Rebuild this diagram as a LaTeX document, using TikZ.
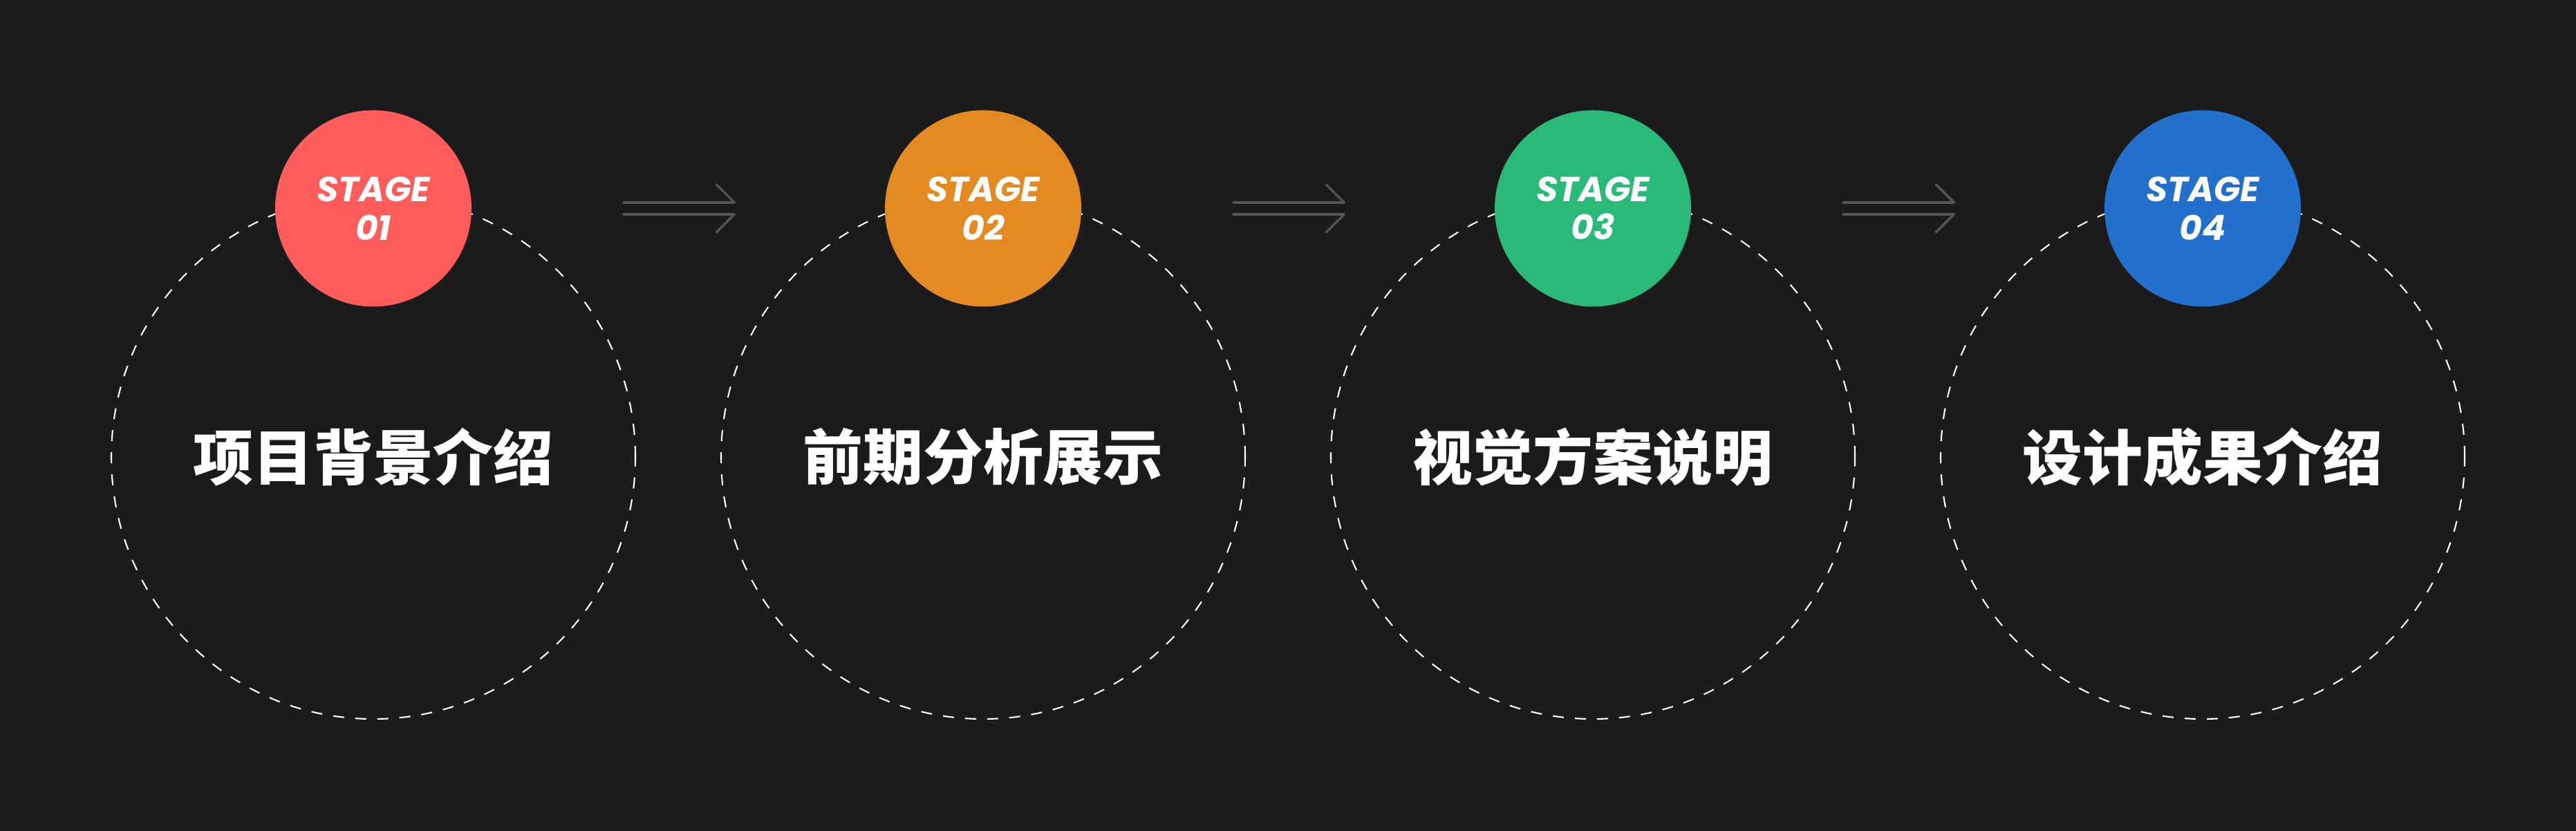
\documentclass[tikz,border=0pt]{standalone}
\usepackage{fontspec}
\newfontfamily\cjk{Noto Sans CJK SC}[BoldFont={Noto Sans CJK SC Black}]
\newfontfamily\stagefont{Poppins}
\usetikzlibrary{arrows.meta,calc,positioning}
\definecolor{bg}{HTML}{1B1B1B}
\definecolor{redstage}{HTML}{FF5C5C}
\definecolor{orangestage}{HTML}{E38A22}
\definecolor{greenstage}{HTML}{2BB97A}
\definecolor{bluestage}{HTML}{2370CC}
\definecolor{arrowgray}{HTML}{555555}
\tikzset{
    ring/.style={
    circle,draw=white,line width=0.6pt,dash pattern=on 1.6mm off 1.6mm,minimum size=7.58cm,inner sep=0pt
    },
    badge/.style={
    circle,fill=#1,minimum size=2.84cm,inner sep=0pt,text=white,align=center,
    font=\stagefont\bfseries\itshape\fontsize{14.3}{15.8}\selectfont
    },
    title/.style={
    text=white,inner sep=0pt,font=\cjk\bfseries\fontsize{24.7}{30}\selectfont
    },
    upper/.style={
    draw=arrowgray,line width=0.95pt,line cap=round,-{Straight Barb[harpoon,length=2.6mm,width=5.2mm,round]}
    },
    lower/.style={
    draw=arrowgray,line width=0.95pt,line cap=round,-{Straight Barb[harpoon,swap,length=2.6mm,width=5.2mm,round]}
    },
}

\begin{document}
\begin{tikzpicture}[node distance=8.82cm, on grid]
   \fill[bg] (0,0) rectangle (37.26,12.02);
   % dashed rings
   \node[ring] (r1) at (5.40,5.41) {};
   \node[ring,right=of r1] (r2) {};
   \node[ring,right=of r2] (r3) {};
   \node[ring,right=of r3] (r4) {};
   % titles
   \node[title] (t1) at (r1) {项目背景介绍};
   \node[title] (t2) at (r2) {前期分析展示};
   \node[title] (t3) at (r3) {视觉方案说明};
   \node[title] (t4) at (r4) {设计成果介绍};
   % stage badges
   \node[badge=redstage,above=3.595 of r1] (s1) {STAGE\\01};
   \node[badge=orangestage,above=3.595 of r2] (s2) {STAGE\\02};
   \node[badge=greenstage,above=3.595 of r3] (s3) {STAGE\\03};
   \node[badge=bluestage,above=3.595 of r4] (s4) {STAGE\\04};

   % double arrows between stages
   \foreach \a/\b in {s1/s2,s2/s3,s3/s4}{
     \coordinate (\a-ul) at ($(\a)!0.5!(\b)+(-0.79,0.085)$);
     \coordinate (\a-ur) at ($(\a)!0.5!(\b)+(0.83,0.085)$);
     \coordinate (\a-ll) at ($(\a)!0.5!(\b)+(-0.79,-0.085)$);
     \coordinate (\a-lr) at ($(\a)!0.5!(\b)+(0.83,-0.085)$);
     \draw[upper] (\a-ul) -- (\a-ur);
     \draw[lower] (\a-ll) -- (\a-lr);
   }
\end{tikzpicture}
\end{document}
